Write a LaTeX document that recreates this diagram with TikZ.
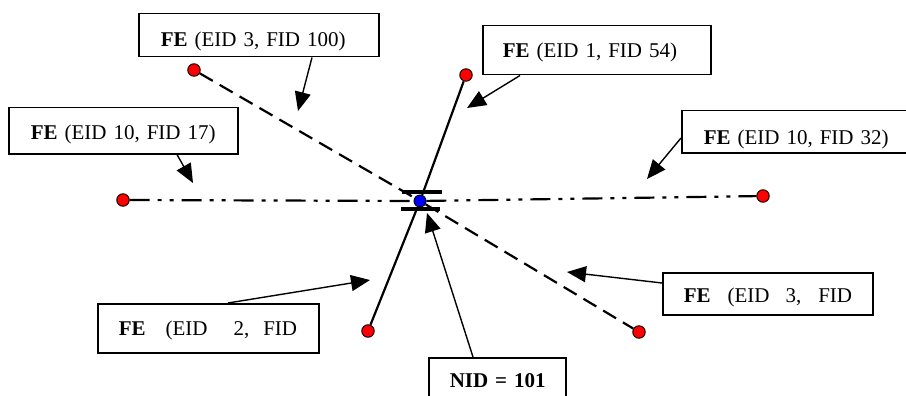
\documentclass[tikz,border=0pt]{standalone}
\usepackage{fontspec}
\setmainfont{Liberation Serif}
\usetikzlibrary{arrows.meta,calc}
\begin{document}
\begin{tikzpicture}[x=1pt,y=-1pt,
  box/.style={draw,line width=1.5pt,anchor=north west,align=left,inner ysep=0pt,
    text depth=0pt,font=\fontsize{21}{25}\selectfont},
  rdot/.style={circle,draw,fill=red,line width=0.9pt,minimum size=12.5pt,inner sep=0pt},
  bdot/.style={circle,draw,fill=blue,line width=0.9pt,minimum size=12pt,inner sep=0pt},
  arr/.style={-{Triangle[length=19pt,width=16pt]},line width=1.4pt},
  dashline/.style={line width=2.2pt,dash pattern=on 15pt off 8pt},
  solidline/.style={line width=2.2pt},
  ddline/.style={line width=2.2pt,dash pattern=on 20pt off 8pt on 4pt off 8pt on 4pt off 8pt},
  bar/.style={line width=3.8pt}]
\clip (0,0) rectangle (906,396);
\fill[white] (0,0) rectangle (906,396);

% boxes
\node[box,inner xsep=22pt,text width=196pt,minimum height=43pt,text height=21.9pt] (b100) at (138,13) {\mbox{\textbf{FE} (EID 3, FID 100)}};
\node[box,inner xsep=20pt,text width=188pt,minimum height=49pt,text height=14.9pt] (b54) at (482,25) {\mbox{\textbf{FE} (EID 1, FID 54)}};
\node[box,inner xsep=22pt,text width=185pt,minimum height=46pt,text height=16.9pt] (b17) at (8,107) {\mbox{\textbf{FE} (EID 10, FID 17)}};
\node[box,inner xsep=22pt,text width=185pt,minimum height=42pt,text height=25.9pt] (b32) at (681,110) {\mbox{\textbf{FE} (EID 10, FID 32)}};
\node[box,inner xsep=21pt,text width=179pt,minimum height=49pt,text height=14.9pt] (b2) at (97,303) {\mbox{\textbf{FE}\hspace{20pt}(EID\hspace{26pt}2,\hspace{14pt}FID}};
\node[box,inner xsep=21pt,text width=168pt,minimum height=42pt,text height=17.9pt] (b3) at (662,272) {\mbox{\textbf{FE}\hspace{17pt}(EID\hspace{16pt}3,\hspace{17pt}FID}};
\node[box,inner xsep=21pt,text width=95pt,minimum height=48pt,text height=11.9pt] (nid) at (428,357) {\mbox{\textbf{NID = 101}}};

% bars at the node
\draw[bar] (402,192) -- (442,192);
\draw[bar] (401,209) -- (440,209);

% dots
\node[rdot] (d1) at (194,70) {};
\node[rdot] (d2) at (639,332) {};
\node[rdot] (d3) at (466,75) {};
\node[rdot] (d4) at (368,331) {};
\node[rdot] (d5) at (123,200) {};
\node[rdot] (d6) at (763,196) {};
\node[bdot] (c) at (420,201) {};

% feature lines
\draw[dashline] (d1) -- (c);
\draw[dashline] (c) -- (d2);
\draw[solidline] (d3) -- (c);
\draw[solidline] (c) -- (d4);
\draw[ddline] (d5) -- (c);
\draw[ddline] (c) -- (d6);

% arrow tips
\coordinate (t100) at (298,111);
\coordinate (t54) at (467,108);
\coordinate (t17) at (193,183);
\coordinate (t32) at (647,179);
\coordinate (t2) at (370,280);
\coordinate (t3) at (567,272);
\coordinate (tnid) at (427,213);

\draw[arr] ($(b100.south west)+(174,0)$) -- (t100);
\draw[arr] ($(b54.south west)+(38,0)$) -- (t54);
\draw[arr] ($(b17.south west)+(169,0)$) -- (t17);
\draw[arr] ($(b32.north west)+(0,28)$) -- (t32);
\draw[arr] ($(b2.north west)+(131,0)$) -- (t2);
\draw[arr] ($(b3.north west)+(0,11)$) -- (t3);
\draw[arr] ($(nid.north west)+(45,0)$) -- (tnid);
\end{tikzpicture}
\end{document}
